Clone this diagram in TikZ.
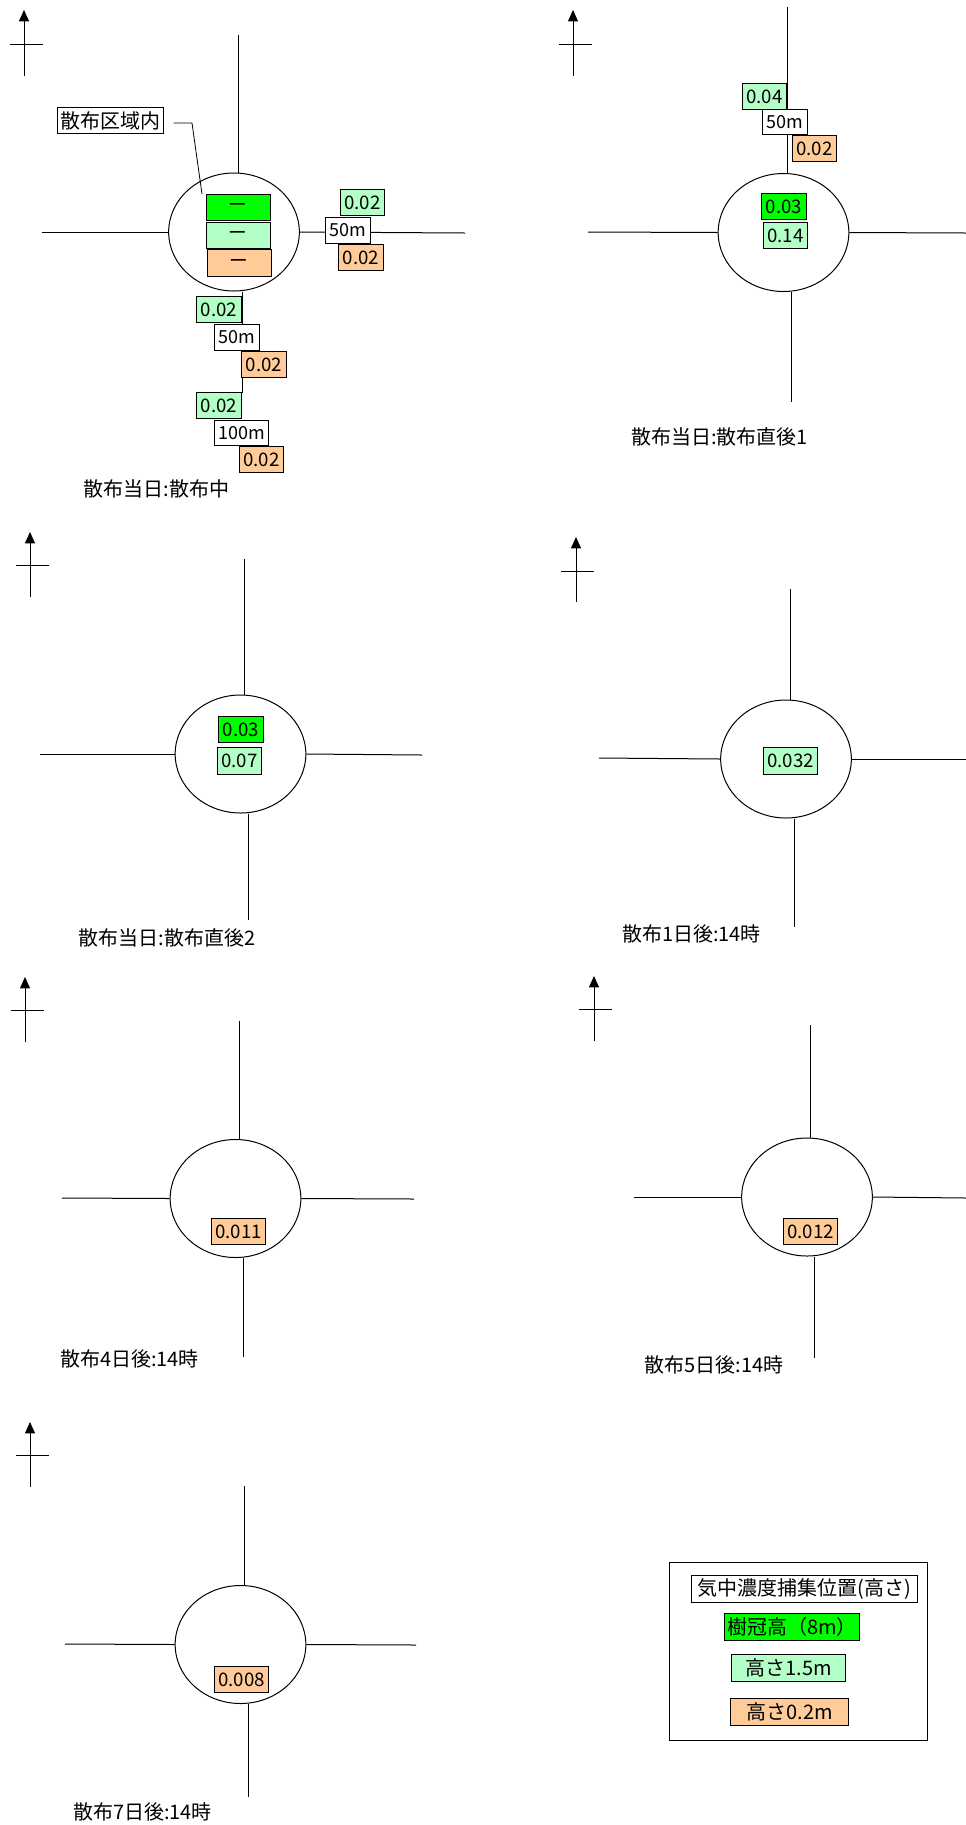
\documentclass[tikz,border=0pt]{standalone}
\usepackage{fontspec}
\setmainfont{Noto Sans CJK JP}
\usepackage{tikz}
\usetikzlibrary{calc, positioning, arrows.meta, shapes.geometric}

\begin{document}
\begin{tikzpicture}[
		x=0.75pt, y=-0.75pt,
		>={Triangle[width=7.5pt,length=8.5pt]},
		line width=0.75pt,
		sitecircle/.style={draw, ellipse, inner sep=0pt, minimum width=98pt, minimum height=88.5pt},
		valbox/.style={draw, line width=0.6pt, rectangle, inner xsep=3pt, inner ysep=1pt, minimum height=20pt, font=\fontsize{14}{14}\selectfont},
		canopybox/.style={valbox, fill=canopy},
		highbox/.style={valbox, fill=high},
		lowbox/.style={valbox, fill=low},
		distbox/.style={valbox, fill=white, minimum height=19pt, font=\fontsize{13.5}{13.5}\selectfont},
		dashbox/.style={valbox, minimum width=48pt},
		labelbox/.style={draw, line width=0.6pt, fill=white, rectangle, inner sep=2pt, minimum height=20pt, font=\fontsize{15}{15}\selectfont},
		titletext/.style={font=\fontsize{15}{15}\selectfont, inner sep=0pt}
	]
	\definecolor{canopy}{RGB}{0,255,0}
	\definecolor{high}{RGB}{180,255,200}
	\definecolor{low}{RGB}{255,204,153}
	\useasboundingbox (0,0) rectangle (966,1825);

	% panel 1
	\draw[->] (24,76) -- (24,10);
	\draw (10,44) -- (43,44);
	\node[sitecircle] (c1) at (234,232) {};
	\coordinate (c1t) at (238,35);
	\coordinate (c1l) at (42,232);
	\coordinate (c1r) at (465,233);
	\coordinate (c1b) at (242,393);
	\draw (c1t) -- (c1t |- c1.north);
	\draw (c1l) -- (c1.west);
	\draw (c1.east) -- (c1r);
	\draw (c1b |- c1.south) -- (c1b);
	\node[dashbox, fill=canopy] (c1can) at (238,207.5) {ー};
	\node[dashbox, fill=high] (c1high) at (238,235.5) {ー};
	\node[dashbox, fill=low] (c1low) at (239,263) {ー};
	\node[labelbox] (inlab) at (110.5,120.5) {散布区域内};
	\coordinate (inbend) at (192,123);
	\coordinate (inend) at (202,194);
	\draw[line width=0.6pt] ([xshift=7.5pt]inlab.east |- inbend) -- (inbend) -- (inend);
	\node[highbox] (e50h) at (362.5,202.5) {0.02};
	\node[distbox] (e50) at (348,230.5) {50m};
	\node[lowbox] (e50l) at (361,257.5) {0.02};
	\node[highbox] (s50h) at (219,309.5) {0.02};
	\node[distbox] (s50) at (237,337.5) {50m};
	\node[lowbox] (s50l) at (264,364.5) {0.02};
	\node[highbox] (s100h) at (219,405.5) {0.02};
	\node[distbox] (s100) at (241.5,433) {100m};
	\node[lowbox] (s100l) at (261.5,459.5) {0.02};
	\node[titletext] (t1) at (156.5,489) {散布当日:散布中};

	% panel 2
	\draw[->] (573,76) -- (573,10);
	\draw (559,44) -- (592,44);
	\node[sitecircle] (c2) at (783.5,232.5) {};
	\coordinate (c2t) at (787,7);
	\coordinate (c2l) at (588,232);
	\coordinate (c2r) at (966,233);
	\coordinate (c2b) at (791,402);
	\draw (c2t) -- (c2t |- c2.north);
	\draw (c2l) -- (c2.west);
	\draw (c2.east) -- (c2r);
	\draw (c2b |- c2.south) -- (c2b);
	\node[canopybox] (c2can) at (784,206.5) {0.03};
	\node[highbox] (c2high) at (785.5,235.5) {0.14};
	\node[highbox] (n50h) at (764.5,96.5) {0.04};
	\node[distbox] (n50) at (785,122) {50m};
	\node[lowbox] (n50l) at (814.5,148.5) {0.02};
	\node[titletext] (t2) at (719.5,437) {散布当日:散布直後1};

	% panel 3
	\draw[->] (30,597) -- (30,532);
	\draw (16,565) -- (49,565);
	\node[sitecircle] (c3) at (240.5,754) {};
	\coordinate (c3t) at (244,559);
	\coordinate (c3l) at (40,754);
	\coordinate (c3r) at (422,755);
	\coordinate (c3b) at (248,920);
	\draw (c3t) -- (c3t |- c3.north);
	\draw (c3l) -- (c3.west);
	\draw (c3.east) -- (c3r);
	\draw (c3b |- c3.south) -- (c3b);
	\node[canopybox] (c3can) at (241,729.5) {0.03};
	\node[highbox] (c3high) at (239.5,761) {0.07};
	\node[titletext] (t3) at (167,938) {散布当日:散布直後2};

	% panel 4
	\draw[->] (576,602) -- (576,537);
	\draw (561,571) -- (594,571);
	\node[sitecircle] (c4) at (786,759) {};
	\coordinate (c4t) at (790,589);
	\coordinate (c4l) at (599,758);
	\coordinate (c4r) at (966,759);
	\coordinate (c4b) at (794,927);
	\draw (c4t) -- (c4t |- c4.north);
	\draw (c4l) -- (c4.west);
	\draw (c4.east) -- (c4r);
	\draw (c4b |- c4.south) -- (c4b);
	\node[highbox] (c4high) at (790.5,761) {0.032};
	\node[titletext] (t4) at (691.5,934) {散布1日後:14時};

	% panel 5
	\draw[->] (25,1042) -- (25,977);
	\draw (11,1010) -- (44,1010);
	\node[sitecircle] (c5) at (235.5,1198.5) {};
	\coordinate (c5t) at (239,1021);
	\coordinate (c5l) at (62,1198);
	\coordinate (c5r) at (414,1199);
	\coordinate (c5b) at (243,1357);
	\draw (c5t) -- (c5t |- c5.north);
	\draw (c5l) -- (c5.west);
	\draw (c5.east) -- (c5r);
	\draw (c5b |- c5.south) -- (c5b);
	\node[lowbox] (c5low) at (238.5,1231.5) {0.011};
	\node[titletext] (t5) at (129.5,1359) {散布4日後:14時};

	% panel 6
	\draw[->] (594,1041) -- (594,976);
	\draw (579,1009) -- (612,1009);
	\node[sitecircle] (c6) at (807,1197) {};
	\coordinate (c6t) at (810,1025);
	\coordinate (c6l) at (634,1197);
	\coordinate (c6r) at (966,1198);
	\coordinate (c6b) at (814,1358);
	\draw (c6t) -- (c6t |- c6.north);
	\draw (c6l) -- (c6.west);
	\draw (c6.east) -- (c6r);
	\draw (c6b |- c6.south) -- (c6b);
	\node[lowbox] (c6low) at (810.5,1231.5) {0.012};
	\node[titletext] (t6) at (714,1365) {散布5日後:14時};

	% panel 7
	\draw[->] (30,1487) -- (30,1422);
	\draw (16,1455) -- (49,1455);
	\node[sitecircle] (c7) at (240.5,1644.5) {};
	\coordinate (c7t) at (244,1486);
	\coordinate (c7l) at (65,1644);
	\coordinate (c7r) at (416,1645);
	\coordinate (c7b) at (248,1797);
	\draw (c7t) -- (c7t |- c7.north);
	\draw (c7l) -- (c7.west);
	\draw (c7.east) -- (c7r);
	\draw (c7b |- c7.south) -- (c7b);
	\node[lowbox] (c7low) at (241.5,1679.5) {0.008};
	\node[titletext] (t7) at (142.5,1812) {散布7日後:14時};

	% legend
	\node[draw, rectangle, minimum width=194pt, minimum height=134pt] (legend) at (798.5,1651.5) {};
	\node[labelbox, minimum width=170pt] (legtitle) at (804.5,1589) {気中濃度捕集位置(高さ)};
	\node[labelbox, fill=canopy, minimum width=91.5pt] (legcan) at (792,1627) {樹冠高（8m）};
	\node[labelbox, fill=high, minimum width=86pt] (leghigh) at (788.5,1668) {高さ1.5m};
	\node[labelbox, fill=low, minimum width=88pt] (leglow) at (789.5,1712) {高さ0.2m};
\end{tikzpicture}
\end{document}
